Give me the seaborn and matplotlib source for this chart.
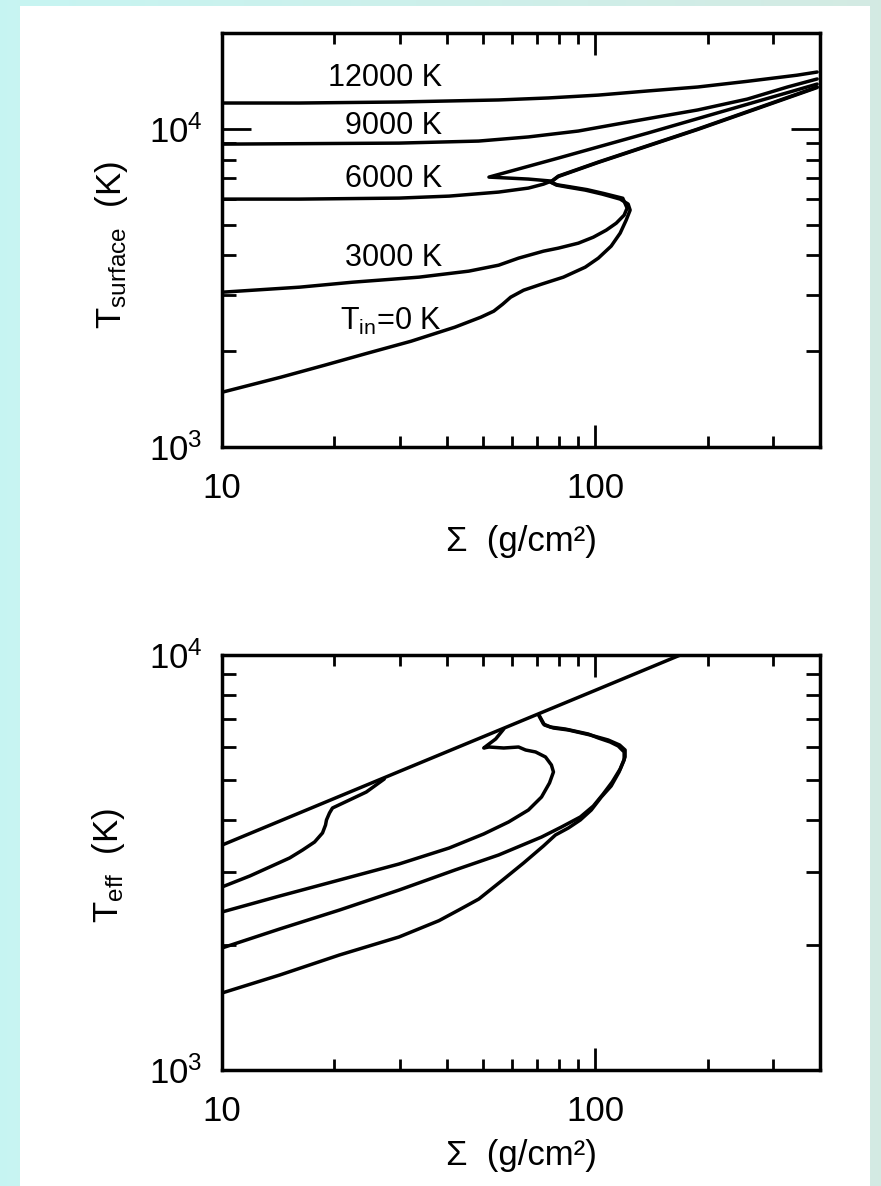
import numpy as np
import pandas as pd
import matplotlib
matplotlib.use("Agg")
import matplotlib.pyplot as plt
import seaborn as sns
from matplotlib.patches import Rectangle
from matplotlib.ticker import FixedLocator, FixedFormatter, NullFormatter

# ---------------- surface temperature vs surface density ----------------
sig_s_12000 = [10, 16.1, 29.8, 55.1, 74.9, 101.8, 138.4, 188.1, 255.6, 347.4, 393]
T_s_12000 = [12050, 12050, 12140, 12320, 12500, 12760, 13150, 13530, 14100, 14740, 15080]

sig_s_9000 = [10, 29.8, 48.7, 66.2, 90.1, 115.1, 147.2, 188.1, 255.6, 327.2, 393]
T_s_9000 = [8950, 9016, 9150, 9428, 9840, 10360, 10900, 11460, 12400, 13530, 14340]

sig_s_6000 = [10, 16.1, 29.8, 40.6, 55.1, 66.2, 72.65, 76.3,
              66.2, 51.9,
              79.6, 138.4, 393]
T_s_6000 = [6012, 6012, 6056, 6144, 6326, 6511, 6700, 6850,
            6950, 7050,
            8090, 9700, 13820]

sig_s_3000 = [10, 16.14, 22.35, 33.73, 45.84, 55.1, 62.3, 72.65, 79.6, 90.1,
              98.8, 107.0, 113.8, 119.5, 121.7,
              118.5, 105.5, 95.0, 85.0, 79.0, 76.0,
              79.6, 101.9, 188.1, 272, 393]
T_s_3000 = [3065, 3179, 3295, 3418, 3570, 3727, 3922, 4125, 4216, 4371,
            4564, 4802, 5051, 5354, 5632,
            6050, 6260, 6440, 6580, 6670, 6800,
            7080, 7840, 9950, 11580, 13480]

sig_s_0 = [10, 14.37, 18.82, 24.51, 32.11, 42.07, 49.36, 53.46, 56.49, 59.35,
           64.27, 71.78, 82.16, 94.0, 101.9, 110.3, 116.6, 121.0, 124.0,
           122.5, 116.6, 104.4, 94.0, 84.2, 78.7, 75.86,
           79.6, 101.9, 188.1, 272, 393]
T_s_0 = [1486, 1657, 1807, 1971, 2150, 2380, 2558, 2672, 2811, 2957,
         3110, 3249, 3418, 3674, 3922, 4278, 4700, 5163, 5552,
         5799, 6012, 6233, 6417, 6558, 6653, 6800,
         7101, 7861, 9980, 11620, 13530]

# ---------------- effective temperature vs surface density ----------------
sig_e_12000 = [10, 30, 100, 169]
T_e_12000 = [3483, 5250, 8220, 10000]

sig_e_9000 = [10, 11.88, 13.43, 15.18, 16.44, 17.7, 18.59, 18.94, 19.05, 19.41,
              19.77, 21.95, 24.36, 27.21]
T_e_9000 = [2761, 2935, 3085, 3243, 3389, 3543, 3726, 3894, 4004, 4163,
            4279, 4473, 4676, 5026]

sig_e_6000 = [10, 14.28, 20.64, 29.8, 40.6, 50.26, 58.6, 66.2, 71.78, 75.4,
              77.27, 76.3, 73.56, 69.2, 65.07, 62.3, 56.85, 51.9, 50.26,
              51.9, 54.1, 56.85]
T_e_6000 = [2403, 2626, 2870, 3136, 3427, 3705, 3960, 4231, 4548, 4916,
            5225, 5431, 5679, 5839, 5903, 6002, 5969, 6002, 5969,
            6102, 6275, 6631]

sig_e_3000 = [10, 14.28, 20.64, 29.8, 42.07, 55.1, 71.78, 81.15, 91.2, 98.8,
              105.0, 111.0, 116.6, 120.2, 120.2, 116.2, 108.3, 96.98, 84.72,
              77.27, 73.11, 70.9]
T_e_3000 = [1968, 2187, 2429, 2714, 3033, 3297, 3642, 3850, 4071, 4326,
            4625, 4943, 5313, 5679, 5903, 6069, 6240, 6415, 6596,
            6669, 6781, 7129]

sig_e_0 = [10, 14.28, 20.64, 29.8, 38.13, 43.1, 48.75, 56.49, 64.27, 72.65,
           78.22, 84.72, 91.2, 97.57, 103.8, 110.3, 115.8, 119.5, 119.5,
           115.2, 109.6, 101.9, 95.8, 83.18, 75.86, 72.65, 70.47]
T_e_0 = [1533, 1694, 1893, 2092, 2290, 2430, 2582, 2870, 3154, 3466,
         3684, 3830, 4004, 4231, 4548, 4834, 5225, 5585, 5839,
         6036, 6171, 6310, 6450, 6631, 6705, 6818, 7168]

curve_names = ["12000 K", "9000 K", "6000 K", "3000 K", r"T$_{\rm in}$=0 K"]
label_T = [13660, 9640, 6560, 3697, 2339]

x_major = [10, 100]
x_major_labels = ["10", "100"]
x_minor = [20, 30, 40, 50, 60, 70, 80, 90, 200, 300]
y_major = [1e3, 1e4]
y_major_labels = [r"$10^3$", r"$10^4$"]
y_minor = [2000, 3000, 4000, 5000, 6000, 7000, 8000, 9000, 20000]


def long_frame(pairs):
    rows = []
    for name, (xs, ys) in zip(curve_names, pairs):
        for i, (x, y) in enumerate(zip(xs, ys)):
            rows.append({"curve": name, "step": i, "sigma": x, "T": y})
    return pd.DataFrame(rows)


surf = long_frame([(sig_s_12000, T_s_12000), (sig_s_9000, T_s_9000),
                   (sig_s_6000, T_s_6000), (sig_s_3000, T_s_3000),
                   (sig_s_0, T_s_0)])
eff = long_frame([(sig_e_12000, T_e_12000), (sig_e_9000, T_e_9000),
                  (sig_e_6000, T_e_6000), (sig_e_3000, T_e_3000),
                  (sig_e_0, T_e_0)])

sns.set_theme(style="ticks")
plt.rcParams["font.family"] = ["Liberation Sans", "DejaVu Sans"]
plt.rcParams["mathtext.fontset"] = "custom"
plt.rcParams["mathtext.rm"] = "Liberation Sans"
plt.rcParams["mathtext.it"] = "Liberation Sans:italic"
plt.rcParams["mathtext.bf"] = "Liberation Sans:bold"
plt.rcParams["mathtext.default"] = "regular"

W, H = 881, 1186
fig = plt.figure(figsize=(W / 100, H / 100), dpi=100)

# page background: pale cyan gradient with a white sheet on top
bg = fig.add_axes([0, 0, 1, 1], zorder=-10)
c0 = np.array([0.78, 0.96, 0.95])
c1 = np.array([0.83, 0.92, 0.89])
t = np.linspace(0, 1, 256)[None, :, None]
bg.imshow(c0 + (c1 - c0) * t, extent=[0, 1, 0, 1], aspect="auto")
bg.add_patch(Rectangle((20 / W, 0), 850 / W, 1 - 6 / H, color="white", lw=0))
bg.set_xlim(0, 1)
bg.set_ylim(0, 1)
bg.axis("off")

left, right = 222 / W, 820 / W
ax1 = fig.add_axes([left, 1 - 447 / H, right - left, 414 / H])
ax2 = fig.add_axes([left, 1 - 1070 / H, right - left, 415 / H])

for ax, df, ylim in [(ax1, surf, (1e3, 2e4)), (ax2, eff, (1e3, 1e4))]:
    ax.set_xscale("log")
    ax.set_yscale("log")
    sns.lineplot(data=df, x="sigma", y="T", units="curve", estimator=None,
                 sort=False, color="black", linewidth=2.5, ax=ax, legend=False)
    for ln in ax.get_lines():
        ln.set_solid_joinstyle("round")
        ln.set_solid_capstyle("round")
    ax.set_xlim(10, 400)
    ax.set_ylim(*ylim)
    ax.set_facecolor("none")
    for s in ax.spines.values():
        s.set_linewidth(2.5)
        s.set_color("black")
    ax.xaxis.set_major_locator(FixedLocator(x_major))
    ax.xaxis.set_major_formatter(FixedFormatter(x_major_labels))
    ax.xaxis.set_minor_locator(FixedLocator(x_minor))
    ax.xaxis.set_minor_formatter(NullFormatter())
    ax.yaxis.set_major_locator(FixedLocator(y_major))
    ax.yaxis.set_major_formatter(FixedFormatter(y_major_labels))
    ax.yaxis.set_minor_locator(FixedLocator(y_minor))
    ax.yaxis.set_minor_formatter(NullFormatter())
    ax.tick_params(which="both", direction="in", top=True, right=True,
                   width=2.0, color="black", labelcolor="black")
    ax.tick_params(axis="x", which="major", length=16, pad=18, labelsize=25)
    ax.tick_params(axis="x", which="minor", length=8)
    ax.tick_params(axis="y", which="major", length=21, pad=14, labelsize=25)
    ax.tick_params(axis="y", which="minor", length=10)
    ax.set_xlabel("Σ  (g/cm²)", fontsize=25, color="black")

ax1.set_ylabel(r"T$_{\rm surface}$  (K)", fontsize=25, color="black")
ax2.set_ylabel(r"T$_{\rm eff}$  (K)", fontsize=25, color="black")
ax1.yaxis.set_label_coords(-0.154, 0.488)
ax2.yaxis.set_label_coords(-0.159, 0.494)
ax1.xaxis.set_label_coords(0.5, -0.189)
ax2.xaxis.set_label_coords(0.5, -0.166)

for name, ty in zip(curve_names, label_T):
    ax1.text(38.8, ty, name, ha="right", va="baseline", fontsize=22,
             color="black")

fig.savefig("out.png", dpi=100)
